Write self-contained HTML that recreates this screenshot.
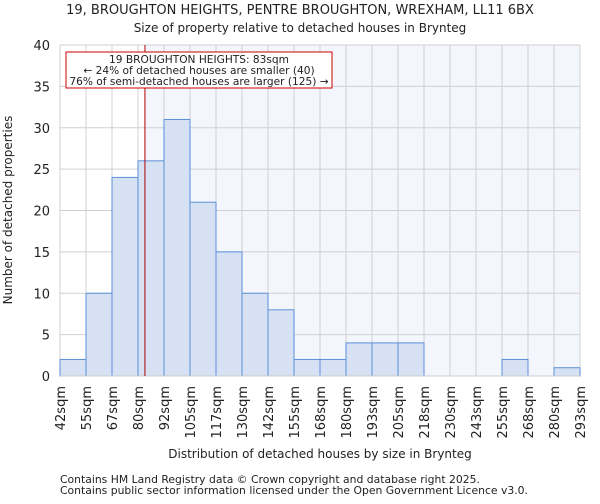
<!DOCTYPE html>
<html><head><meta charset="utf-8"><style>
body{margin:0;background:#fff;font-family:"DejaVu Sans","Liberation Sans",sans-serif;}
svg text{font-family:"DejaVu Sans","Liberation Sans",sans-serif;fill:#222;}
</style></head><body>
<svg id="chart" width="600" height="500">
<text x="300" y="14" font-size="13" text-anchor="middle">19, BROUGHTON HEIGHTS, PENTRE BROUGHTON, WREXHAM, LL11 6BX</text>
<text x="300" y="32" font-size="12" text-anchor="middle">Size of property relative to detached houses in Brynteg</text>
<g id="plot"></g>
<text x="320" y="458" font-size="12" text-anchor="middle">Distribution of detached houses by size in Brynteg</text>
<text transform="translate(12,210) rotate(-90)" font-size="12" text-anchor="middle">Number of detached properties</text>
<text x="60" y="483" font-size="10.8">Contains HM Land Registry data © Crown copyright and database right 2025.</text>
<text x="60" y="494" font-size="10.8">Contains public sector information licensed under the Open Government Licence v3.0.</text>
</svg>
<script>
const categories=["42sqm","55sqm","67sqm","80sqm","92sqm","105sqm","117sqm","130sqm","142sqm","155sqm","168sqm","180sqm","193sqm","205sqm","218sqm","230sqm","243sqm","255sqm","268sqm","280sqm","293sqm"];
const counts=[2,10,24,26,31,21,15,10,8,2,2,4,4,4,0,0,0,2,0,1];
const yTicks=[0,5,10,15,20,25,30,35,40];
const binStart=42, binWidth=12.55, subjectSize=83;
const L=60,R=580,T=45,B=376,yMax=40;
const n=counts.length;
const xs=i=>L+i*(R-L)/n;
const xv=v=>L+(v-binStart)/binWidth*(R-L)/n;
const ys=v=>B-v/yMax*(B-T);
const ns="http://www.w3.org/2000/svg";
const g=document.getElementById('plot');
function mk(t,a){const e=document.createElementNS(ns,t);for(const k in a)e.setAttribute(k,a[k]);g.appendChild(e);return e;}
const mx=xv(subjectSize);
let e=mk('rect',{x:mx,y:T,width:R-mx,height:B-T,fill:'#f3f6fd'});


for(let i=0;i<=n;i++){e=mk('line',{x1:xs(i),x2:xs(i),y1:T,y2:B,stroke:'#d0d0d0','stroke-width':1});

}
yTicks.forEach(v=>{e=mk('line',{x1:L,x2:R,y1:ys(v),y2:ys(v),stroke:'#d0d0d0','stroke-width':1});


e=mk('text',{x:L-10,y:ys(v)+5,'font-size':13,'text-anchor':'end'});e.textContent=v;

});
counts.forEach((c,i)=>{if(c<=0)return;e=mk('rect',{x:xs(i),y:ys(c),width:xs(i+1)-xs(i),height:B-ys(c),fill:'#d6e2f4',stroke:'#5b8fd6','stroke-width':1});

});
e=mk('line',{x1:L,x2:R,y1:B,y2:B,stroke:'#ccc','stroke-width':1});


categories.forEach((c,i)=>{const x=xs(i);e=mk('text',{transform:`translate(${x+5},${B+10}) rotate(-90)`,'font-size':13,'text-anchor':'end'});e.textContent=c;

});
e=mk('line',{x1:mx,x2:mx,y1:T,y2:B,stroke:'#b00000','stroke-width':1});


e=mk('rect',{x:66,y:52,width:266,height:36,fill:'#fff',stroke:'#cc0000','stroke-width':1});


[["19 BROUGHTON HEIGHTS: 83sqm",63],["← 24% of detached houses are smaller (40)",74],["76% of semi-detached houses are larger (125) →",85]].forEach(([t,y])=>{
e=mk('text',{x:199,y:y,'font-size':10.6,'text-anchor':'middle'});e.textContent=t;

});
</script>
</body></html>
